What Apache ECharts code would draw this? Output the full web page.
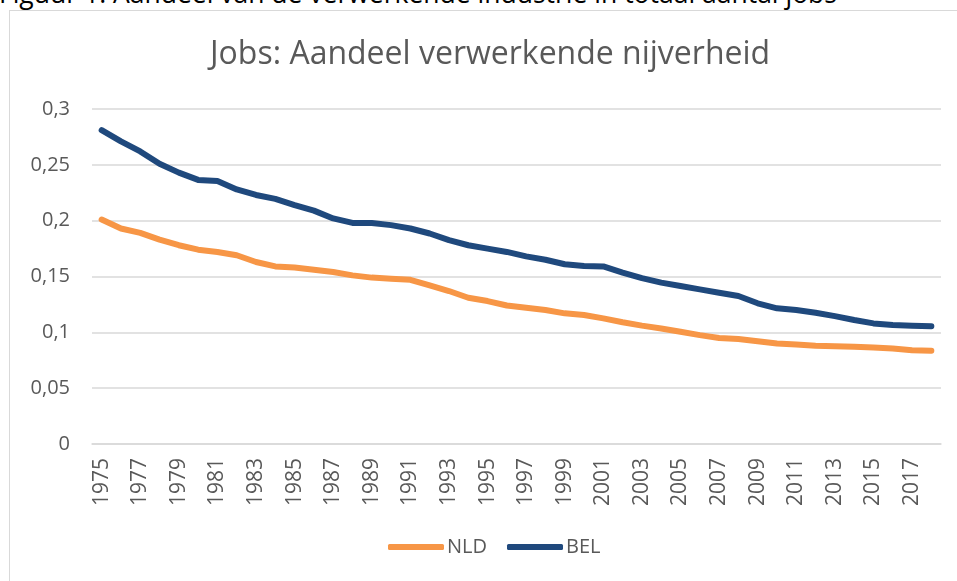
<!DOCTYPE html>
<html>
<head>
<meta charset="utf-8">
<script src="https://cdn.jsdelivr.net/npm/echarts@6/dist/echarts.min.js"></script>
<style>
  html, body { margin: 0; padding: 0; background: #fff; overflow: hidden; }
  body { width: 957px; height: 581px; position: relative; font-family: "Open Sans", sans-serif; }
  .caption {
    position: absolute; left: -1px; top: -20px; white-space: nowrap;
    font-size: 26.5px; line-height: 26px; color: #000;
  }
  .frame {
    position: absolute; left: 9px; top: 10px; width: 1000px; height: 700px;
    border: 1px solid #d9d9d9; box-sizing: border-box;
  }
  #chart { position: absolute; left: 0; top: 0; width: 957px; height: 581px; }
</style>
</head>
<body>
<div class="caption">Figuur 1: Aandeel van de verwerkende industrie in totaal aantal jobs</div>
<div class="frame"></div>
<div id="chart"></div>
<script>
// jaren op de x-as
const years = ['1975', '1976', '1977', '1978', '1979', '1980', '1981', '1982', '1983', '1984',
  '1985', '1986', '1987', '1988', '1989', '1990', '1991', '1992', '1993', '1994',
  '1995', '1996', '1997', '1998', '1999', '2000', '2001', '2002', '2003', '2004',
  '2005', '2006', '2007', '2008', '2009', '2010', '2011', '2012', '2013', '2014',
  '2015', '2016', '2017', '2018']

// Nederland
const nld = [0.201, 0.193, 0.189, 0.183, 0.178, 0.174, 0.172, 0.169, 0.163, 0.159,
  0.158, 0.156, 0.154, 0.151, 0.149, 0.148, 0.147, 0.142, 0.137, 0.131,
  0.128, 0.124, 0.122, 0.120, 0.117, 0.1155, 0.1125, 0.109, 0.106, 0.1035,
  0.1005, 0.0975, 0.095, 0.094, 0.092, 0.090, 0.089, 0.088, 0.0875, 0.087,
  0.0865, 0.0855, 0.084, 0.0835]

// Belgie
const bel = [0.281, 0.271, 0.262, 0.251, 0.243, 0.2365, 0.2355, 0.228, 0.223, 0.2195,
  0.214, 0.209, 0.202, 0.198, 0.198, 0.196, 0.193, 0.1885, 0.1825, 0.178,
  0.175, 0.172, 0.168, 0.165, 0.161, 0.1595, 0.159, 0.1535, 0.1485, 0.1445,
  0.1415, 0.1385, 0.1355, 0.1325, 0.126, 0.1215, 0.12, 0.1175, 0.1145, 0.111,
  0.108, 0.1065, 0.106, 0.1055]

const chart = echarts.init(document.getElementById('chart'))

const textColor = '#595959'
const gridColor = '#d9d9d9'

chart.setOption({
  animation: false,
  textStyle: { fontFamily: 'Open Sans' },
  title: {
    text: 'Jobs: Aandeel verwerkende nijverheid',
    left: 205,
    top: 34,
    textStyle: { fontSize: 32, fontWeight: 'normal', color: textColor }
  },
  legend: {
    bottom: 19,
    left: 383,
    itemWidth: 56,
    itemHeight: 6,
    itemGap: 20,
    textStyle: { fontSize: 20, color: textColor, padding: [0, 0, 0, -2] },
    data: [
      { name: 'NLD', icon: 'roundRect' },
      { name: 'BEL', icon: 'roundRect' }
    ]
  },
  grid: { left: 92, right: 16, top: 109, bottom: 137 },
  xAxis: {
    type: 'category',
    data: years,
    boundaryGap: true,
    axisLine: { lineStyle: { color: gridColor, width: 1.5 } },
    axisTick: { show: false },
    axisLabel: { interval: 1, rotate: 90, fontSize: 21, color: textColor, margin: 14 }
  },
  yAxis: {
    type: 'value',
    min: 0,
    max: 0.3,
    interval: 0.05,
    axisLine: { show: false },
    axisTick: { show: false },
    splitLine: { lineStyle: { color: gridColor, width: 1.5 } },
    axisLabel: {
      fontSize: 20,
      color: textColor,
      margin: 22,
      formatter: v => String(+v.toFixed(2)).replace('.', ',')
    }
  },
  series: [
    {
      name: 'NLD',
      type: 'line',
      data: nld,
      symbol: 'none',
      color: '#F79646',
      lineStyle: { width: 6, cap: 'round', join: 'round' }
    },
    {
      name: 'BEL',
      type: 'line',
      data: bel,
      symbol: 'none',
      color: '#1F497D',
      lineStyle: { width: 6, cap: 'round', join: 'round' }
    }
  ]
})
</script>
</body>
</html>
